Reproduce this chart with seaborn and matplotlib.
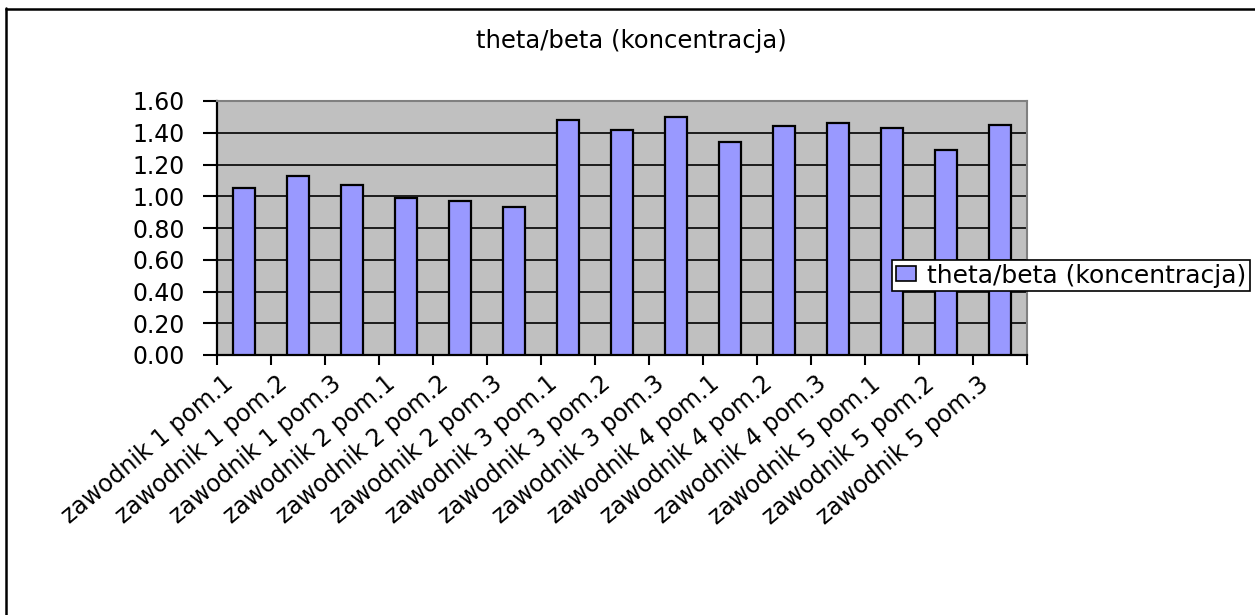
import matplotlib
matplotlib.use("Agg")
import matplotlib.pyplot as plt
import matplotlib.transforms as mtransforms
import seaborn as sns
import numpy as np
import pandas as pd
from matplotlib.patches import Patch
from matplotlib.lines import Line2D

categories = [
    "zawodnik 1 pom.1", "zawodnik 1 pom.2", "zawodnik 1 pom.3",
    "zawodnik 2 pom.1", "zawodnik 2 pom.2", "zawodnik 2 pom.3",
    "zawodnik 3 pom.1", "zawodnik 3 pom.2", "zawodnik 3 pom.3",
    "zawodnik 4 pom.1", "zawodnik 4 pom.2", "zawodnik 4 pom.3",
    "zawodnik 5 pom.1", "zawodnik 5 pom.2", "zawodnik 5 pom.3",
]
values = [1.05, 1.13, 1.07, 0.99, 0.97, 0.93,
          1.48, 1.42, 1.50, 1.34, 1.44, 1.46,
          1.43, 1.29, 1.45]
series_name = "theta/beta (koncentracja)"
y_ticks = [0.0, 0.2, 0.4, 0.6, 0.8, 1.0, 1.2, 1.4, 1.6]

sns.set_theme(style="white")
plt.rcParams['font.family'] = ['DejaVu Sans']
plt.rcParams['text.color'] = 'black'
plt.rcParams['legend.labelcolor'] = 'black'

W, H = 1255, 615
fig = plt.figure(figsize=(W / 100, H / 100), dpi=100)
fig.patch.set_facecolor("white")

L, R, T, B = 217, 1027, 101, 355
ax = fig.add_axes([L / W, 1 - B / H, (R - L) / W, (B - T) / H])
ax.set_facecolor("#C0C0C0")

df = pd.DataFrame({"cat": categories, "val": values})
sns.barplot(data=df, x="cat", y="val", color="#9999FF", saturation=1,
            width=0.41, edgecolor="black", linewidth=1.6, ax=ax, zorder=3)

ax.set_xlim(-0.5, len(categories) - 0.5)
ax.set_ylim(0, 1.6)
ax.set_yticks(y_ticks)
ax.set_yticklabels([f"{v:.2f}" for v in y_ticks], fontsize=17, color="black")
ax.yaxis.grid(True, color="black", linewidth=1.2, zorder=1)
ax.set_axisbelow(True)
ax.set_xlabel("")
ax.set_ylabel("")

ax.set_xticks(np.arange(len(categories)))
ax.set_xticklabels(categories, rotation=40, ha="right", va="top",
                   rotation_mode="anchor", fontsize=17, color="black")
ax.tick_params(axis="x", which="major", length=0, pad=12)
offset = mtransforms.ScaledTranslation(-0.22, 0, fig.dpi_scale_trans)
for lab in ax.get_xticklabels():
    lab.set_transform(lab.get_transform() + offset)
ax.set_xticks(np.arange(len(categories) + 1) - 0.5, minor=True)
ax.tick_params(axis="x", which="minor", length=7, width=1.5, color="black",
               direction="out", bottom=True)
ax.tick_params(axis="y", which="major", length=10, width=1.5, color="black",
               direction="out", left=True, pad=13)

for side in ["left", "bottom"]:
    ax.spines[side].set_color("black")
    ax.spines[side].set_linewidth(1.6)
for side in ["top", "right"]:
    ax.spines[side].set_color("#808080")
    ax.spines[side].set_linewidth(1.5)

fig.text(631 / W, 1 - 41 / H, series_name, ha="center", va="center",
         fontsize=17.5, color="black")

handle = Patch(facecolor="#9999FF", edgecolor="black", linewidth=1.2)
leg = fig.legend([handle], [series_name], loc="center left",
                 bbox_to_anchor=(892 / W, 1 - 275.5 / H),
                 fontsize=18, frameon=True, fancybox=False, shadow=False,
                 borderpad=0.15, handlelength=0.8, handleheight=0.55,
                 handletextpad=0.45, borderaxespad=0, labelcolor="black")
leg.get_frame().set_edgecolor("black")
leg.get_frame().set_linewidth(1.2)
leg.get_frame().set_facecolor("white")
leg.get_frame().set_alpha(1)
leg.set_zorder(10)

fig.add_artist(Line2D([6 / W, 6 / W], [0, 1 - 8 / H], transform=fig.transFigure,
                      color="black", linewidth=1.8))
fig.add_artist(Line2D([6 / W, 1], [1 - 8.5 / H, 1 - 8.5 / H], transform=fig.transFigure,
                      color="black", linewidth=1.8))

fig.savefig("out.png", dpi=100, facecolor="white")
